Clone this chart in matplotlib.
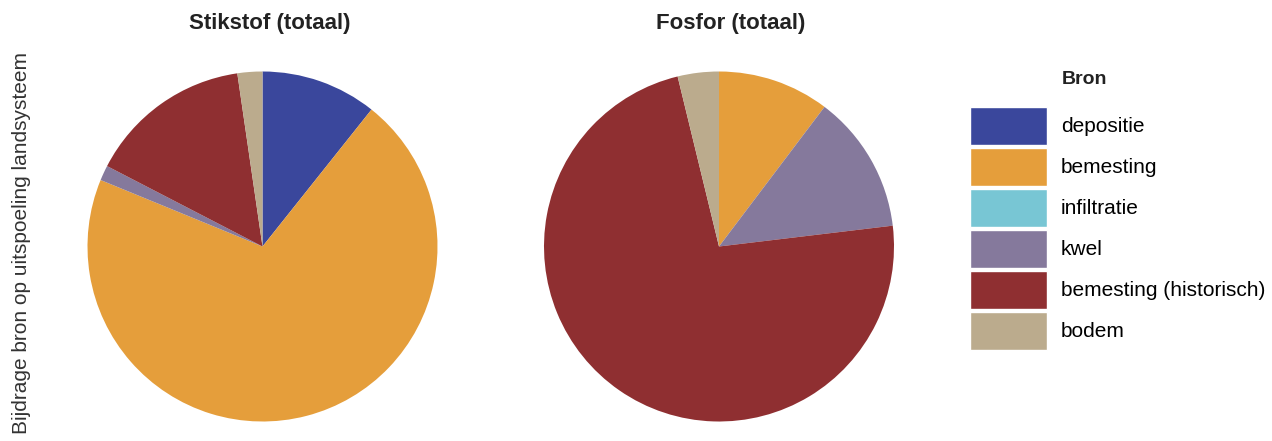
import matplotlib
matplotlib.use("Agg")
import matplotlib.pyplot as plt
from matplotlib.patches import Patch

# ---------- data ---------- #
bronnen = ["depositie", "bemesting", "infiltratie", "kwel",
           "bemesting (historisch)", "bodem"]
kleuren = ["#3A479C", "#E59E3B", "#78C6D4", "#85799C", "#8F2F31", "#BBAB8D"]

stikstof = [10.7, 70.5, 0.0, 1.4, 15.1, 2.3]
fosfor = [0.0, 10.3, 0.0, 12.8, 73.1, 3.8]

titels = ["Stikstof (totaal)", "Fosfor (totaal)"]

# ---------- figure ---------- #
W, H = 1272, 441
fig = plt.figure(figsize=(W / 100, H / 100), dpi=100)
body_font = ["Liberation Sans", "DejaVu Sans"]
title_font = ["Liberation Sans", "DejaVu Sans"]


def add_pie(cx, cy, r, values):
    # axes box given in pixels -> figure fractions
    ax = fig.add_axes([(cx - r) / W, (H - cy - r) / H, 2 * r / W, 2 * r / H])
    ax.pie(values, colors=kleuren, startangle=90, counterclock=False,
           radius=1.0, wedgeprops=dict(linewidth=0))
    ax.set_xlim(-1, 1)
    ax.set_ylim(-1, 1)
    return ax


add_pie(262.5, 246.5, 175, stikstof)
add_pie(719, 246.5, 175, fosfor)

fig.text(270 / W, 1 - 24 / H, titels[0], ha="center", va="center",
         fontsize=16, fontweight="bold", family=title_font, color="#222222")
fig.text(731 / W, 1 - 24 / H, titels[1], ha="center", va="center",
         fontsize=16, fontweight="bold", family=title_font, color="#222222")

fig.text(22 / W, 1 - 243 / H, "Bijdrage bron op uitspoeling landsysteem",
         rotation=90, ha="center", va="center", fontsize=15,
         family=body_font, color="#333333")

# ---------- legend ---------- #
handles = [Patch(facecolor=c, edgecolor="white", linewidth=1.0) for c in kleuren]
fs = 15
fig.legend(handles, bronnen, loc="upper left",
           bbox_to_anchor=(970 / W, 1 - 107 / H), frameon=False,
           prop=dict(family=body_font, size=fs),
           handlelength=3.7, handleheight=2.43, labelspacing=0.14,
           handletextpad=0.67, borderpad=0, borderaxespad=0)
fig.text(1062 / W, 1 - 80 / H, "Bron", ha="left", va="center",
         fontsize=14, fontweight="bold", family=body_font, color="#222222")

fig.savefig("out.png", dpi=100)
